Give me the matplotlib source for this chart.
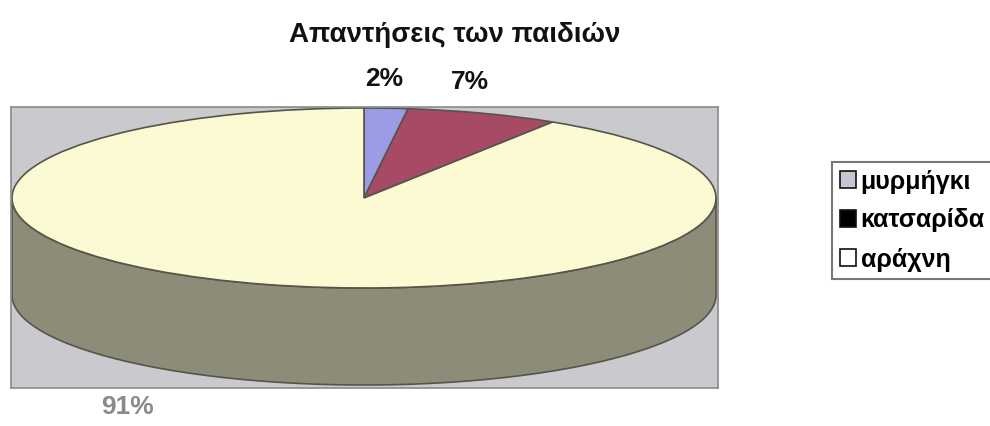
import numpy as np
import matplotlib
matplotlib.use("Agg")
import matplotlib.pyplot as plt
from matplotlib.patches import Polygon, Patch

plt.rcParams['font.family'] = ['Liberation Sans', 'DejaVu Sans']

# Data
categories = ["μυρμήγκι", "κατσαρίδα", "αράχνη"]
values = [2, 7, 91]
top_colors = ["#9c9ce6", "#a64a66", "#fbfad2"]
side_colors = ["#6f6fa8", "#6e3044", "#8d8c78"]
legend_colors = ["#c4c4d2", "#000000", "#ffffff"]
title = "Απαντήσεις των παιδιών"

W, H = 990, 426
fig = plt.figure(figsize=(W / 100, H / 100), dpi=100)
fig.patch.set_facecolor("white")

# Plot area in pixels (left, top, right, bottom)
px_l, px_t, px_r, px_b = 11, 107, 718, 388
ax = fig.add_axes([px_l / W, 1 - px_b / H, (px_r - px_l) / W, (px_b - px_t) / H])
ax.set_facecolor("#c9c9ce")

# Pie geometry in pixels: centre, semi-axes and depth
cx, cy, a, b, depth = 364, 198, 352, 90, 97
thick = depth / b  # thickness in data units (y unit = b pixels)

edge = "#55554a"
ax.pie(values, colors=top_colors, startangle=90, counterclock=False,
       radius=1, frame=True,
       wedgeprops=dict(edgecolor=edge, linewidth=1.2))

# Side walls: visible front arc of each slice (clockwise angle from top)
bounds = np.concatenate([[0], np.cumsum(values)]) / sum(values) * 360
for i in range(len(values)):
    s, e = max(bounds[i], 90), min(bounds[i + 1], 270)
    if e <= s:
        continue
    th = np.radians(np.linspace(s, e, 200))
    xs, ys = np.sin(th), np.cos(th)
    pts = np.vstack([np.column_stack([xs, ys]),
                     np.column_stack([xs[::-1], ys[::-1] - thick])])
    ax.add_patch(Polygon(pts, closed=True, facecolor=side_colors[i],
                         edgecolor=edge, linewidth=1.2, zorder=0.5))

ax.set_aspect("auto")
ax.set_xlim((px_l - cx) / a, (px_r - cx) / a)
ax.set_ylim((cy - px_b) / b, (cy - px_t) / b)
ax.set_xticks([])
ax.set_yticks([])
for sp in ax.spines.values():
    sp.set_color("#8a8a8a")
    sp.set_linewidth(1.2)

# Title
fig.text(455 / W, 1 - 35 / H, title, ha="center", va="center",
         fontsize=20, fontweight="bold", color="#111111")

# Percentage labels
label_pos = [(384, 79), (470, 82), (127, 407)]
label_col = ["#111111", "#111111", "#8a8a8a"]
for v, (x, y), c in zip(values, label_pos, label_col):
    fig.text(x / W, 1 - y / H, f"{v}%", ha="center", va="center",
             fontsize=19, fontweight="bold", color=c)

# Legend (box runs past the right edge of the figure)
handles = [Patch(facecolor=c, edgecolor="#111111", linewidth=1.2)
           for c in legend_colors]
leg = fig.legend(handles, categories, loc="upper left",
                 bbox_to_anchor=(832 / W, 1 - 162 / H, 0.2, 0),
                 mode="expand",
                 prop=dict(weight="bold", size=18),
                 frameon=True, fancybox=False, framealpha=1,
                 edgecolor="#777777", handlelength=0.65, handleheight=0.65,
                 handletextpad=0.2, labelspacing=0.6, borderpad=0.3,
                 borderaxespad=0)
leg.get_frame().set_linewidth(1.5)

fig.savefig("out.png", dpi=100)
